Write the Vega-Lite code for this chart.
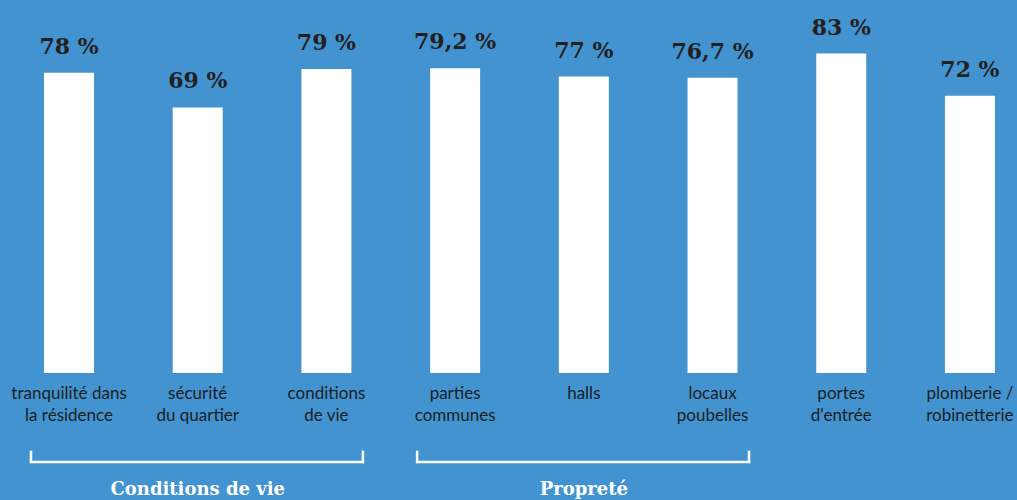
{
  "$schema": "https://vega.github.io/schema/vega-lite/v6.json",
  "width": 1017,
  "height": 373,
  "autosize": {"type": "none"},
  "padding": {"left": 0, "top": 0, "right": 0, "bottom": 127},
  "background": "#4293d0",
  "config": {"view": {"stroke": null}},
  "datasets": {
    "bars": [
      {"category": "tranquilité dans\nla résidence", "value": 78, "label": "78 %"},
      {"category": "sécurité\ndu quartier", "value": 69, "label": "69 %"},
      {"category": "conditions\nde vie", "value": 79, "label": "79 %"},
      {"category": "parties\ncommunes", "value": 79.2, "label": "79,2 %"},
      {"category": "halls", "value": 77, "label": "77 %"},
      {"category": "locaux\npoubelles", "value": 76.7, "label": "76,7 %"},
      {"category": "portes\nd'entrée", "value": 83, "label": "83 %"},
      {"category": "plomberie /\nrobinetterie", "value": 72, "label": "72 %"}
    ],
    "groups": [
      {"group": "Conditions de vie", "first": "tranquilité dans\nla résidence", "middle": "sécurité\ndu quartier", "last": "conditions\nde vie"},
      {"group": "Propreté", "first": "parties\ncommunes", "middle": "halls", "last": "locaux\npoubelles"}
    ]
  },
  "encoding": {
    "x": {
      "field": "category",
      "type": "nominal",
      "sort": null,
      "scale": {
        "domain": ["tranquilité dans\nla résidence", "sécurité\ndu quartier", "conditions\nde vie", "parties\ncommunes", "halls", "locaux\npoubelles", "portes\nd'entrée", "plomberie /\nrobinetterie"],
        "paddingInner": 0.6115,
        "paddingOuter": 0.2568,
        "align": 0.666
      },
      "axis": {
        "title": null,
        "domain": false,
        "ticks": false,
        "grid": false,
        "labelAngle": 0,
        "labelFont": "Lato",
        "labelFontSize": 17,
        "labelColor": "#1e1e22",
        "labelPadding": 25,
        "labelBaseline": "alphabetic",
        "labelLineHeight": 22,
        "labelLimit": 0,
        "labelOverlap": false,
        "labelExpr": "split(datum.value, '\\n')"
      }
    }
  },
  "layer": [
    {
      "data": {"name": "bars"},
      "mark": {"type": "bar", "color": "#ffffff"},
      "encoding": {
        "y": {"field": "value", "type": "quantitative", "scale": {"domain": [0, 96.9], "nice": false, "zero": false}, "axis": null}
      }
    },
    {
      "data": {"name": "bars"},
      "mark": {"type": "text", "baseline": "alphabetic", "dy": -19, "font": "DejaVu Serif", "fontWeight": "bold", "fontSize": 22, "color": "#231f20"},
      "encoding": {
        "y": {"field": "value", "type": "quantitative"},
        "text": {"field": "label"}
      }
    },
    {
      "data": {"name": "groups"},
      "mark": {"type": "rule", "color": "#ffffff", "strokeWidth": 2.5, "strokeCap": "square"},
      "encoding": {
        "x": {"field": "first", "type": "nominal", "bandPosition": -0.26},
        "x2": {"field": "last", "bandPosition": 1.23},
        "y": {"datum": -23.1}
      }
    },
    {
      "data": {"name": "groups"},
      "mark": {"type": "rule", "color": "#ffffff", "strokeWidth": 2.5, "strokeCap": "square"},
      "encoding": {
        "x": {"field": "first", "type": "nominal", "bandPosition": -0.26},
        "y": {"datum": -20.5},
        "y2": {"datum": -23.1}
      }
    },
    {
      "data": {"name": "groups"},
      "mark": {"type": "rule", "color": "#ffffff", "strokeWidth": 2.5, "strokeCap": "square"},
      "encoding": {
        "x": {"field": "last", "type": "nominal", "bandPosition": 1.23},
        "y": {"datum": -20.5},
        "y2": {"datum": -23.1}
      }
    },
    {
      "data": {"name": "groups"},
      "mark": {"type": "text", "baseline": "alphabetic", "font": "DejaVu Serif", "fontWeight": "bold", "fontSize": 18, "color": "#ffffff"},
      "encoding": {
        "x": {"field": "middle", "type": "nominal", "bandPosition": 0.5},
        "y": {"datum": -31.8},
        "text": {"field": "group"}
      }
    }
  ]
}
